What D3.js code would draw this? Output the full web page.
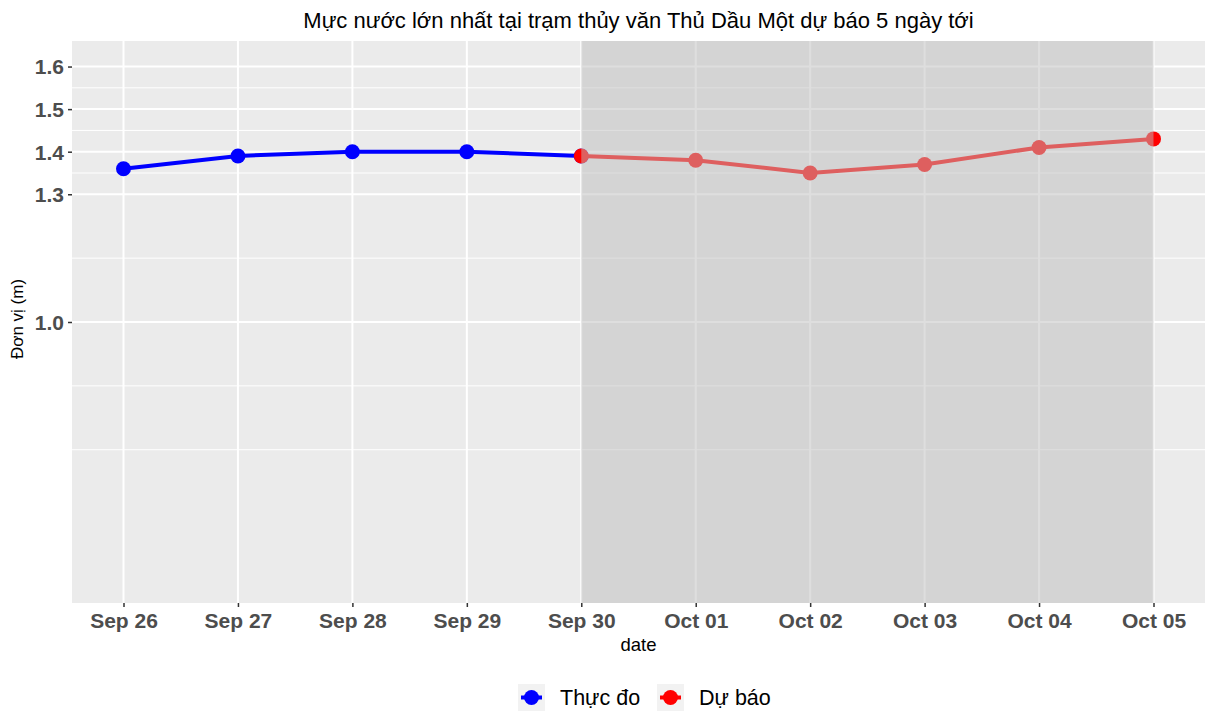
<!DOCTYPE html>
<html>
<head>
<meta charset="utf-8">
<script src="https://cdn.jsdelivr.net/npm/d3@7"></script>
<style>
  body { margin: 0; background: #fff; }
  svg { font-family: "Liberation Sans", Arial, sans-serif; }
</style>
</head>
<body>
<svg id="main-chart-svg" width="1205" height="711"></svg>
<script>
// chart data
const dates = ["2023-09-26", "2023-09-27", "2023-09-28", "2023-09-29", "2023-09-30",
               "2023-10-01", "2023-10-02", "2023-10-03", "2023-10-04", "2023-10-05"];
const observedDates = dates.slice(0, 5);
const observedValues = [1.36, 1.39, 1.40, 1.40, 1.39];
const forecastDates = dates.slice(4);
const forecastValues = [1.39, 1.38, 1.35, 1.37, 1.41, 1.43];
const yTicks = [1.0, 1.3, 1.4, 1.5, 1.6];
const yMinor = [0.7, 0.85, 1.15, 1.35, 1.45, 1.55];
const yLimits = [0.4, 1.6];
const seriesNames = ["Thực đo", "Dự báo"];
const seriesColors = ["#0000FF", "#FF0000"];

const parse = d3.utcParse("%Y-%m-%d");
const svg = d3.select("#main-chart-svg");

const panelLeft = 72, panelRight = 1205, panelTop = 41, panelBottom = 603;

// ggplot-like 5% expansion
const d0 = parse(dates[0]), d1 = parse(dates[dates.length - 1]);
const xPad = (d1 - d0) * 0.05;
let xScale = d3.scaleUtc()
  .domain([new Date(+d0 - xPad), new Date(+d1 + xPad)])
  .range([panelLeft, panelRight]);

const yPad = (yLimits[1] - yLimits[0]) * 0.05;
let yScale = d3.scaleLinear()
  .domain([yLimits[0] - yPad, yLimits[1] + yPad])
  .range([panelBottom, panelTop]);

// panel
svg.append("rect")
  .attr("x", panelLeft).attr("y", panelTop)
  .attr("width", panelRight - panelLeft).attr("height", panelBottom - panelTop)
  .attr("fill", "#EBEBEB");

// grid
svg.append("g").selectAll("line").data(yMinor).join("line")
  .attr("x1", panelLeft).attr("x2", panelRight)
  .attr("y1", d => yScale(d)).attr("y2", d => yScale(d))
  .attr("stroke", "#fff").attr("stroke-width", 1);
svg.append("g").selectAll("line").data(yTicks).join("line")
  .attr("x1", panelLeft).attr("x2", panelRight)
  .attr("y1", d => yScale(d)).attr("y2", d => yScale(d))
  .attr("stroke", "#fff").attr("stroke-width", 2);
svg.append("g").selectAll("line").data(dates).join("line")
  .attr("x1", d => xScale(parse(d))).attr("x2", d => xScale(parse(d)))
  .attr("y1", panelTop).attr("y2", panelBottom)
  .attr("stroke", "#fff").attr("stroke-width", 2);

// series
const line = d3.line().x(d => xScale(d[0])).y(d => yScale(d[1]));
const series = [
  observedDates.map((d, i) => [parse(d), observedValues[i]]),
  forecastDates.map((d, i) => [parse(d), forecastValues[i]])
];
series.forEach((pts, i) => {
  svg.append("path").datum(pts)
    .attr("d", line)
    .attr("fill", "none")
    .attr("stroke", seriesColors[i])
    .attr("stroke-width", 4);
  svg.append("g").selectAll("circle").data(pts).join("circle")
    .attr("cx", d => xScale(d[0])).attr("cy", d => yScale(d[1]))
    .attr("r", 7.5)
    .attr("fill", seriesColors[i]);
});

// forecast shading over the top
svg.append("rect")
  .attr("x", xScale(parse(forecastDates[0])))
  .attr("y", panelTop)
  .attr("width", xScale(parse(forecastDates[forecastDates.length - 1])) - xScale(parse(forecastDates[0])))
  .attr("height", panelBottom - panelTop)
  .attr("fill", "#BEBEBE").attr("fill-opacity", 0.5);

// axes
let xAxis = d3.axisBottom(xScale)
  .tickValues(dates.map(parse))
  .tickFormat(d3.utcFormat("%b %d"))
  .tickSize(4).tickPadding(5);
svg.append("g").attr("id", "xAxis")
  .attr("transform", `translate(0,${panelBottom})`)
  .call(xAxis);

let yAxis = d3.axisLeft(yScale)
  .tickValues(yTicks)
  .tickFormat(d3.format(".1f"))
  .tickSize(4).tickPadding(4);
svg.append("g").attr("id", "yAxis")
  .attr("transform", `translate(${panelLeft},0)`)
  .call(yAxis);

svg.selectAll("#xAxis .domain, #yAxis .domain").remove();
svg.selectAll("#xAxis .tick line, #yAxis .tick line").attr("stroke", "#333").attr("stroke-width", 1.5);
svg.selectAll("#xAxis text, #yAxis text")
  .attr("fill", "#4D4D4D")
  .style("font-size", "21px")
  .style("font-weight", "bold")
  .style("font-family", "'Liberation Sans', Arial, sans-serif");
svg.selectAll("#xAxis text").attr("dy", "0.75em");
svg.selectAll("#yAxis text").attr("dy", "0.35em");

// titles
svg.append("text")
  .attr("x", (panelLeft + panelRight) / 2).attr("y", 28)
  .attr("text-anchor", "middle")
  .style("font-size", "22px")
  .text("Mực nước lớn nhất tại trạm thủy văn Thủ Dầu Một dự báo 5 ngày tới");

svg.append("text")
  .attr("x", (panelLeft + panelRight) / 2).attr("y", 651)
  .attr("text-anchor", "middle")
  .style("font-size", "18.5px")
  .text("date");

svg.append("text")
  .attr("transform", `translate(23,319) rotate(-90)`)
  .attr("text-anchor", "middle")
  .style("font-size", "17px")
  .text("Đơn vị (m)");

// legend
const legendX = [518, 657];
const legend = svg.append("g");
seriesNames.forEach((name, i) => {
  const g = legend.append("g").attr("transform", `translate(${legendX[i]},684)`);
  g.append("rect").attr("width", 27).attr("height", 27).attr("fill", "#F2F2F2");
  g.append("line").attr("x1", 3).attr("x2", 24).attr("y1", 13.5).attr("y2", 13.5)
    .attr("stroke", seriesColors[i]).attr("stroke-width", 4);
  g.append("circle").attr("cx", 13.5).attr("cy", 13.5).attr("r", 7.5).attr("fill", seriesColors[i]);
  g.append("text").attr("x", 42).attr("y", 20.5)
    .style("font-size", "21.5px")
    .text(name);
});
</script>
</body>
</html>
